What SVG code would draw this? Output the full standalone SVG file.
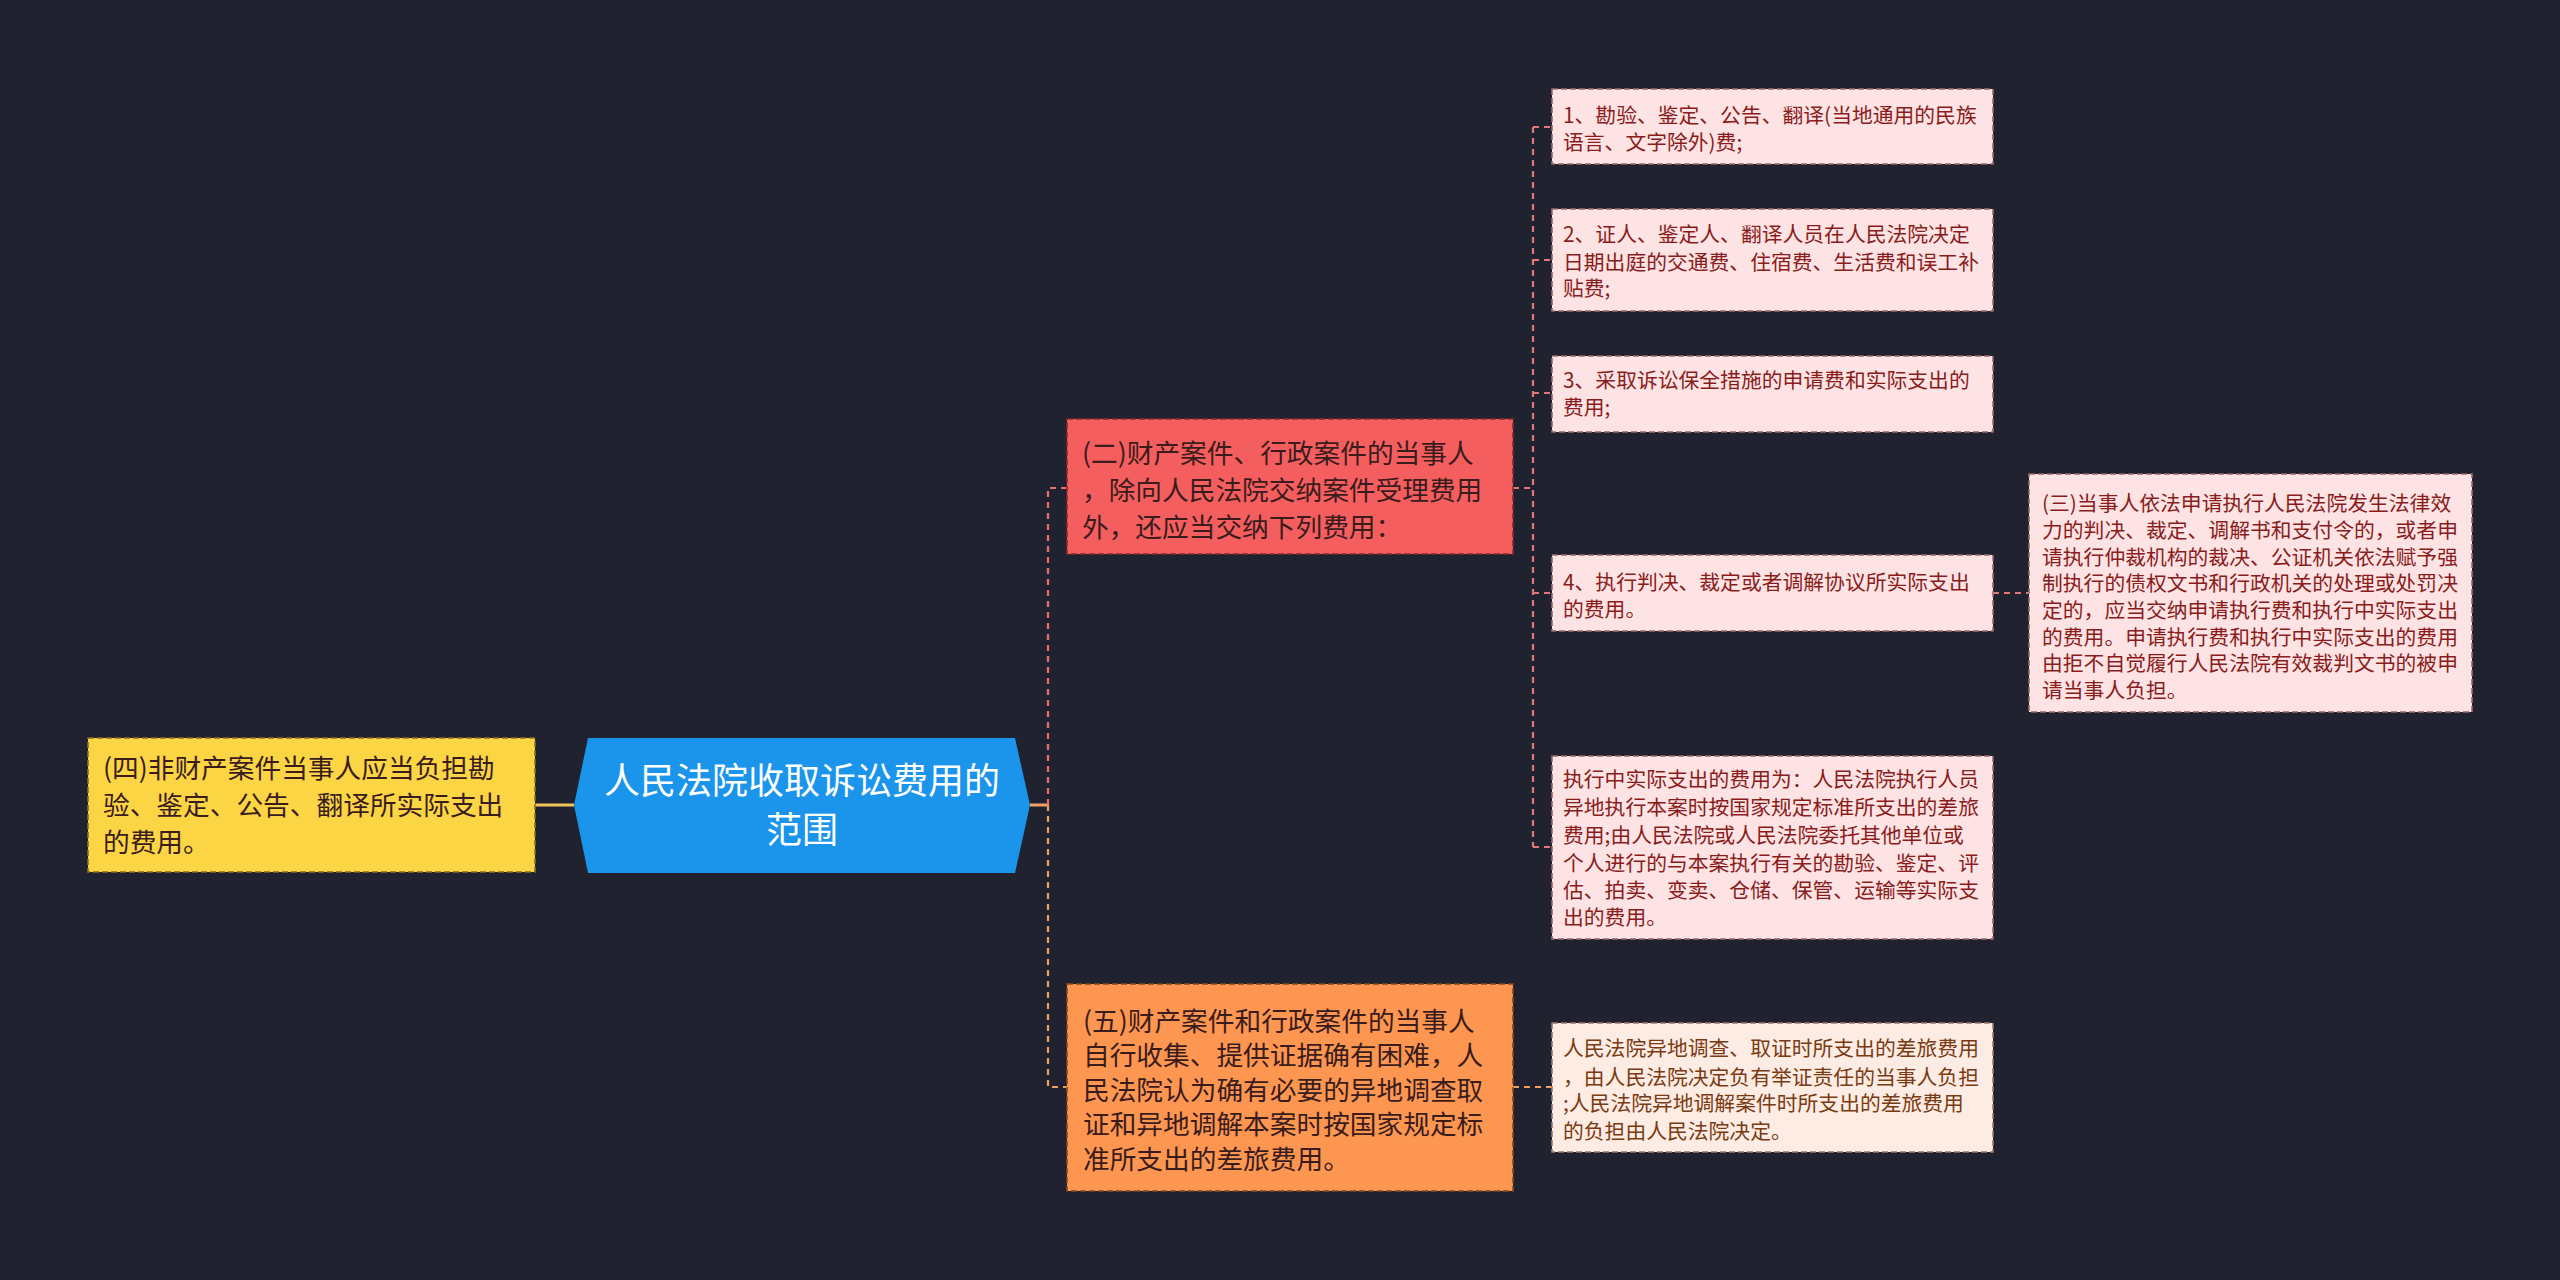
<svg xmlns="http://www.w3.org/2000/svg" width="2560" height="1280" viewBox="0 0 2560 1280">
<style>
text{font-family:"Noto Sans CJK SC","Noto Sans",sans-serif}
.big{font-size:26.7px;fill:#3a1c1c}
.sm{font-size:20.8px;fill:#8a1c1c}
.sm2{font-size:20.8px;fill:#7a3a12}
.root{font-size:36px;fill:#ffffff;text-anchor:middle}
.bx{stroke-width:1.6;stroke-dasharray:6 3}
.cn{fill:none;stroke-width:2.2;stroke-dasharray:6 5}
</style>
<rect width="2560" height="1280" fill="#20232f"/>
<g id="connectors">
<line x1="535" y1="805" x2="574" y2="805" stroke="#f2c55a" stroke-width="3"/>
<line x1="1030" y1="805" x2="1048" y2="805" stroke="#f0a263" stroke-width="3"/>
<path class="cn" d="M1048,805 V488 H1067" stroke="#e8706c"/>
<path class="cn" d="M1048,805 V1087 H1067" stroke="#f29e5c"/>
<path class="cn" d="M1513,488 H1533" stroke="#e0787a"/>
<path class="cn" d="M1533,127 V847" stroke="#e0787a"/>
<path class="cn" d="M1533,127 H1552 M1533,260 H1552 M1533,393 H1552 M1533,593 H1552 M1533,847 H1552" stroke="#e0787a"/>
<path class="cn" d="M1993,593 H2029" stroke="#e0787a"/>
<path class="cn" d="M1513,1087 H1552" stroke="#f29e5c"/>
</g>
<g id="root">
<polygon points="574,805 588,738 1015,738 1030,805 1015,873 588,873" fill="#1b94ec"/>
<text class="root" x="802" y="794">人民法院收取诉讼费用的</text>
<text class="root" x="802" y="843">范围</text>
</g>
<g id="node-si">
<rect class="bx" x="88" y="738" width="447" height="134" fill="#fcd544" stroke="#8a7020"/>
<text class="big" x="103" y="778">(四)非财产案件当事人应当负担勘</text>
<text class="big" x="103" y="815">验、鉴定、公告、翻译所实际支出</text>
<text class="big" x="103" y="852">的费用。</text>
</g>
<g id="node-er">
<rect class="bx" x="1067" y="419" width="446" height="135" fill="#f55e5e" stroke="#8a2a2a"/>
<text class="big" x="1082" y="463">(二)财产案件、行政案件的当事人</text>
<text class="big" x="1082" y="500">，除向人民法院交纳案件受理费用</text>
<text class="big" x="1082" y="537">外，还应当交纳下列费用：</text>
</g>
<g id="node-wu">
<rect class="bx" x="1067" y="984" width="446" height="207" fill="#fd9650" stroke="#8a4a1a"/>
<text class="big" x="1083" y="1031">(五)财产案件和行政案件的当事人</text>
<text class="big" x="1083" y="1065">自行收集、提供证据确有困难，人</text>
<text class="big" x="1083" y="1100">民法院认为确有必要的异地调查取</text>
<text class="big" x="1083" y="1134">证和异地调解本案时按国家规定标</text>
<text class="big" x="1083" y="1169">准所支出的差旅费用。</text>
</g>
<g id="child-1">
<rect class="bx" x="1552" y="89" width="441" height="75" fill="#fde3e3" stroke="#9a6a6a"/>
<text class="sm" x="1563" y="123">1、勘验、鉴定、公告、翻译(当地通用的民族</text>
<text class="sm" x="1563" y="150">语言、文字除外)费;</text>
</g>
<g id="child-2">
<rect class="bx" x="1552" y="209" width="441" height="102" fill="#fde3e3" stroke="#9a6a6a"/>
<text class="sm" x="1563" y="242">2、证人、鉴定人、翻译人员在人民法院决定</text>
<text class="sm" x="1563" y="270">日期出庭的交通费、住宿费、生活费和误工补</text>
<text class="sm" x="1563" y="296">贴费;</text>
</g>
<g id="child-3">
<rect class="bx" x="1552" y="356" width="441" height="76" fill="#fde3e3" stroke="#9a6a6a"/>
<text class="sm" x="1563" y="388">3、采取诉讼保全措施的申请费和实际支出的</text>
<text class="sm" x="1563" y="415">费用;</text>
</g>
<g id="child-4">
<rect class="bx" x="1552" y="555" width="441" height="76" fill="#fde3e3" stroke="#9a6a6a"/>
<text class="sm" x="1563" y="590">4、执行判决、裁定或者调解协议所实际支出</text>
<text class="sm" x="1563" y="617">的费用。</text>
</g>
<g id="child-5">
<rect class="bx" x="1552" y="756" width="441" height="183" fill="#fde3e3" stroke="#9a6a6a"/>
<text class="sm" x="1563" y="787">执行中实际支出的费用为：人民法院执行人员</text>
<text class="sm" x="1563" y="815">异地执行本案时按国家规定标准所支出的差旅</text>
<text class="sm" x="1563" y="843">费用;由人民法院或人民法院委托其他单位或</text>
<text class="sm" x="1563" y="871">个人进行的与本案执行有关的勘验、鉴定、评</text>
<text class="sm" x="1563" y="898">估、拍卖、变卖、仓储、保管、运输等实际支</text>
<text class="sm" x="1563" y="925">出的费用。</text>
</g>
<g id="node-san">
<rect class="bx" x="2029" y="474" width="443" height="238" fill="#fde3e3" stroke="#9a6a6a"/>
<text class="sm" x="2042" y="511">(三)当事人依法申请执行人民法院发生法律效</text>
<text class="sm" x="2042" y="538">力的判决、裁定、调解书和支付令的，或者申</text>
<text class="sm" x="2042" y="565">请执行仲裁机构的裁决、公证机关依法赋予强</text>
<text class="sm" x="2042" y="591">制执行的债权文书和行政机关的处理或处罚决</text>
<text class="sm" x="2042" y="618">定的，应当交纳申请执行费和执行中实际支出</text>
<text class="sm" x="2042" y="645">的费用。申请执行费和执行中实际支出的费用</text>
<text class="sm" x="2042" y="671">由拒不自觉履行人民法院有效裁判文书的被申</text>
<text class="sm" x="2042" y="698">请当事人负担。</text>
</g>
<g id="child-wu">
<rect class="bx" x="1552" y="1023" width="441" height="129" fill="#fdece3" stroke="#9a7a6a"/>
<text class="sm2" x="1563" y="1056">人民法院异地调查、取证时所支出的差旅费用</text>
<text class="sm2" x="1563" y="1085">，由人民法院决定负有举证责任的当事人负担</text>
<text class="sm2" x="1563" y="1111">;人民法院异地调解案件时所支出的差旅费用</text>
<text class="sm2" x="1563" y="1139">的负担由人民法院决定。</text>
</g>
</svg>
